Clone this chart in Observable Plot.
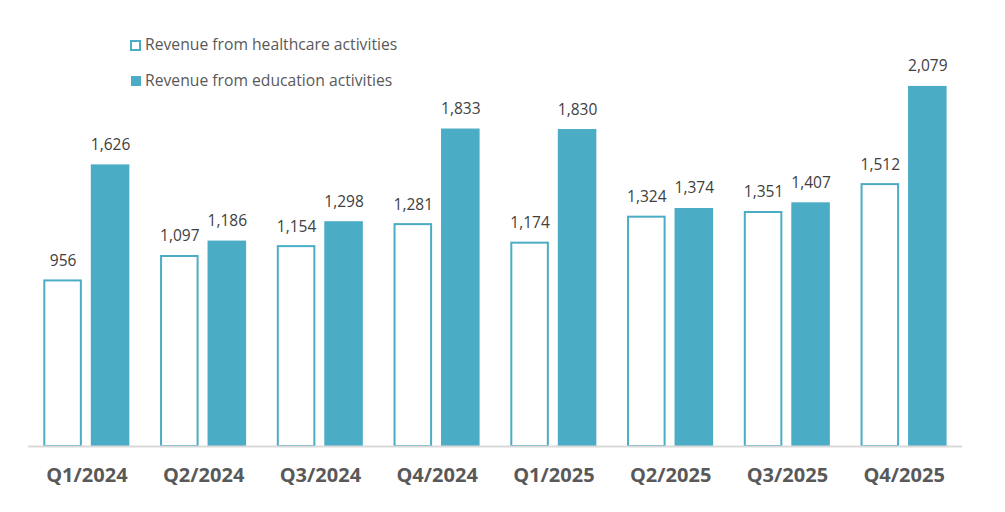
<!DOCTYPE html>
<html>
<head>
<meta charset="utf-8">
<script src="https://cdn.jsdelivr.net/npm/d3@7"></script>
<script src="https://cdn.jsdelivr.net/npm/@observablehq/plot@0.6"></script>
<style>
  html, body { margin: 0; padding: 0; background: #fff; }
  #wrap { position: relative; width: 1005px; height: 512px; font-family: "Open Sans", sans-serif; }
  #legend { position: absolute; left: 130px; top: 34px; font-size: 15.7px; color: #595959; line-height: 1; }
  .item { display: flex; align-items: center; height: 22px; margin-bottom: 14px; }
  .sw { width: 11px; height: 11px; box-sizing: border-box; margin-right: 4px; }
</style>
</head>
<body>
<div id="wrap">
  <div id="chart"></div>
  <div id="legend"></div>
</div>
<script>
const quarters = ["Q1/2024", "Q2/2024", "Q3/2024", "Q4/2024", "Q1/2025", "Q2/2025", "Q3/2025", "Q4/2025"];
const healthcare = [956, 1097, 1154, 1281, 1174, 1324, 1351, 1512];
const education = [1626, 1186, 1298, 1833, 1830, 1374, 1407, 2079];
const seriesNames = ["Revenue from healthcare activities", "Revenue from education activities"];
const teal = "#4BACC6";

const hcData = quarters.map((q, i) => ({quarter: q, value: healthcare[i]}));
const edData = quarters.map((q, i) => ({quarter: q, value: education[i]}));
const fmt = d3.format(",");

const plot = Plot.plot({
  width: 1005,
  height: 512,
  marginLeft: 28,
  marginRight: 43,
  marginTop: 13,
  marginBottom: 66,
  style: {fontFamily: "'Open Sans', sans-serif", background: "#fff"},
  x: {domain: quarters, padding: 0, round: false, label: null},
  y: {domain: [0, 2500], axis: null},
  marks: [
    Plot.barY(hcData, {x: "quarter", y: "value", fill: "#fff", stroke: teal, strokeWidth: 2, insetLeft: 16.3, insetRight: 63.9}),
    Plot.barY(edData, {x: "quarter", y: "value", fill: teal, insetLeft: 62.8, insetRight: 15.4}),
    Plot.text(hcData, {x: "quarter", y: "value", text: d => fmt(d.value), dx: -23.8, dy: -20, fontSize: 15.5, fill: "#404040"}),
    Plot.text(edData, {x: "quarter", y: "value", text: d => fmt(d.value), dx: 23.7, dy: -20, fontSize: 15.5, fill: "#404040"}),
    Plot.ruleY([0], {stroke: "#d9d9d9", strokeWidth: 2}),
    Plot.axisX({tickSize: 0, tickPadding: 29, lineAnchor: "middle", fontSize: 20, fontWeight: "bold", fill: "#595959", label: null})
  ]
});
document.getElementById("chart").appendChild(plot);

const legend = document.getElementById("legend");
seriesNames.forEach((name, i) => {
  const item = document.createElement("div");
  item.className = "item";
  const sw = document.createElement("div");
  sw.className = "sw";
  if (i === 0) { sw.style.border = "2px solid " + teal; sw.style.background = "#fff"; }
  else { sw.style.background = teal; sw.style.width = "10px"; sw.style.height = "10px"; sw.style.marginLeft = "1px"; sw.style.marginRight = "4px"; }
  const label = document.createElement("span");
  label.textContent = name;
  item.appendChild(sw);
  item.appendChild(label);
  legend.appendChild(item);
});
</script>
</body>
</html>
